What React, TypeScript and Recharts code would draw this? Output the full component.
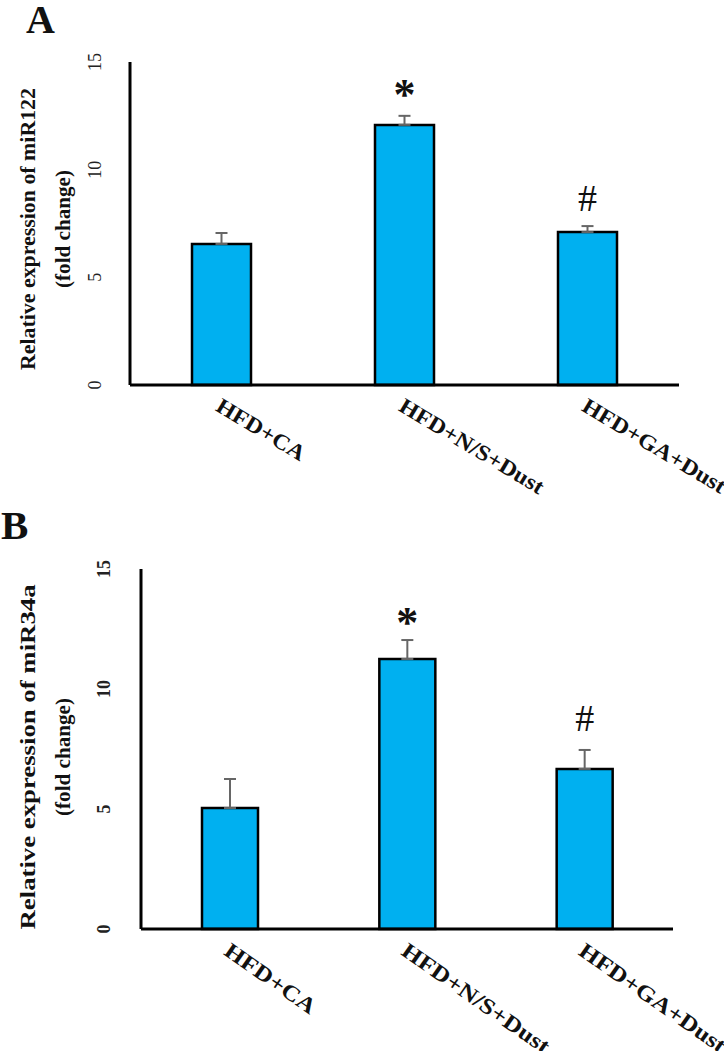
import React from "react";
import { BarChart, Bar, XAxis, YAxis, ErrorBar, LabelList } from "recharts";

const categories = ["HFD+CA", "HFD+N/S+Dust", "HFD+GA+Dust"];
const miR122 = [6.55, 12.08, 7.1];
const miR122Err = [0.51, 0.42, 0.28];
const miR34a = [5.04, 11.25, 6.67];
const miR34aErr = [1.21, 0.79, 0.79];
const marks = ["", "*", "#"];
const yTicks = [0, 5, 10, 15];

const FONT = "Liberation Serif, Times New Roman, serif";
const BLUE = "#00B0F0";

const buildRows = (vals: number[], errs: number[]) =>
  categories.map((name, i) => ({ name, value: vals[i], err: [0, errs[i]], mark: marks[i] }));

const makeXTick = (angle: number, sx: number) => ({ x, y, payload }: any) => (
  <text
    transform={`translate(${x - 7},${y + 25}) rotate(${angle}) scale(${sx},1)`}
    fontFamily={FONT}
    fontWeight="bold"
    fontSize={22}
    fill="#111"
    textAnchor="start"
  >
    {payload.value}
  </text>
);

const makeYTick = (tx: number, bold: boolean) => ({ y, payload }: any) => (
  <text
    transform={`translate(${tx},${y}) rotate(-90)`}
    fontFamily={FONT}
    fontWeight={bold ? "bold" : "normal"}
    fontSize={18}
    fill="#222"
    textAnchor="middle"
    dominantBaseline="central"
  >
    {payload.value}
  </text>
);

const makeTitle = (line1: string, len1: number, cy: number) => () => (
  <g fontFamily={FONT} fontWeight="bold" fill="#111">
    <text
      transform={`translate(27,${cy}) rotate(-90)`}
      textAnchor="middle"
      dominantBaseline="central"
      fontSize={22}
      textLength={len1}
      lengthAdjust="spacingAndGlyphs"
    >
      {line1}
    </text>
    <text
      transform={`translate(62,${cy}) rotate(-90)`}
      textAnchor="middle"
      dominantBaseline="central"
      fontSize={22}
      textLength={118}
      lengthAdjust="spacingAndGlyphs"
    >
      (fold change)
    </text>
  </g>
);

// offsets (px above bar top) for "*" and "#"
const makeMark = (starOff: number, hashOff: number) => (props: any) => {
  const { x, y, width, value } = props;
  if (!value) return null;
  const isStar = value === "*";
  return (
    <text
      x={x + width / 2}
      y={y - (isStar ? starOff : hashOff) + (isStar ? 14 : 0)}
      textAnchor="middle"
      dominantBaseline="central"
      fontFamily={FONT}
      fontWeight={isStar ? "bold" : "normal"}
      fontSize={isStar ? 44 : 38}
      fill="#111"
    >
      {value}
    </text>
  );
};

interface PanelProps {
  rows: any[];
  height: number;
  top: number;
  axisWidth: number;
  right: number;
  xAxisHeight: number;
  barSize: number;
  tickX: number;
  boldTicks: boolean;
  labelAngle: number;
  labelScale: number;
  title: string;
  titleLen: number;
  titleCy: number;
  starOff: number;
  hashOff: number;
}

function Panel(p: PanelProps) {
  return (
    <BarChart
      width={724}
      height={p.height}
      data={p.rows}
      margin={{ top: p.top, right: p.right, left: 0, bottom: 0 }}
      barSize={p.barSize}
    >
      <XAxis
        dataKey="name"
        axisLine={{ stroke: "#000", strokeWidth: 3 }}
        tickLine={false}
        tickSize={0}
        tickMargin={0}
        interval={0}
        height={p.xAxisHeight}
        tick={makeXTick(p.labelAngle, p.labelScale)}
      />
      <YAxis
        domain={[0, 15]}
        ticks={yTicks}
        width={p.axisWidth}
        axisLine={{ stroke: "#000", strokeWidth: 3 }}
        tickLine={false}
        tick={makeYTick(p.tickX, p.boldTicks)}
        label={{ content: makeTitle(p.title, p.titleLen, p.titleCy) } as any}
      />
      <Bar dataKey="value" fill={BLUE} stroke="#000" strokeWidth={2.5} isAnimationActive={false}>
        <ErrorBar dataKey="err" direction="y" width={6} stroke="#666" strokeWidth={2} />
        <LabelList dataKey="mark" content={makeMark(p.starOff, p.hashOff)} />
      </Bar>
    </BarChart>
  );
}

export default function App() {
  return (
    <div style={{ position: "absolute", left: 0, top: 0, width: 724, height: 1051, background: "#fff", overflow: "hidden" }}>
      <div style={{ position: "absolute", left: 0, top: 0 }}>
        <Panel
          rows={buildRows(miR122, miR122Err)}
          height={560}
          top={62}
          axisWidth={130}
          right={45}
          xAxisHeight={175}
          barSize={59}
          tickX={95}
          boldTicks={false}
          labelAngle={31}
          labelScale={1.1}
          title="Relative  expression of miR122"
          titleLen={282}
          titleCy={229}
          starOff={44}
          hashOff={34}
        />
      </div>
      <div style={{ position: "absolute", left: 0, top: 480 }}>
        <Panel
          rows={buildRows(miR34a, miR34aErr)}
          height={571}
          top={89}
          axisWidth={141}
          right={51}
          xAxisHeight={122}
          barSize={56}
          tickX={104}
          boldTicks={true}
          labelAngle={35}
          labelScale={1.17}
          title="Relative expression of miR34a"
          titleLen={345}
          titleCy={277}
          starOff={51}
          hashOff={51}
        />
      </div>
      <div style={{ position: "absolute", left: 26, top: 0, lineHeight: 1, fontFamily: FONT, fontWeight: "bold", fontSize: 40, color: "#111" }}>
        A
      </div>
      <div style={{ position: "absolute", left: 1, top: 505, lineHeight: 1, fontFamily: FONT, fontWeight: "bold", fontSize: 41, color: "#111" }}>
        B
      </div>
    </div>
  );
}
